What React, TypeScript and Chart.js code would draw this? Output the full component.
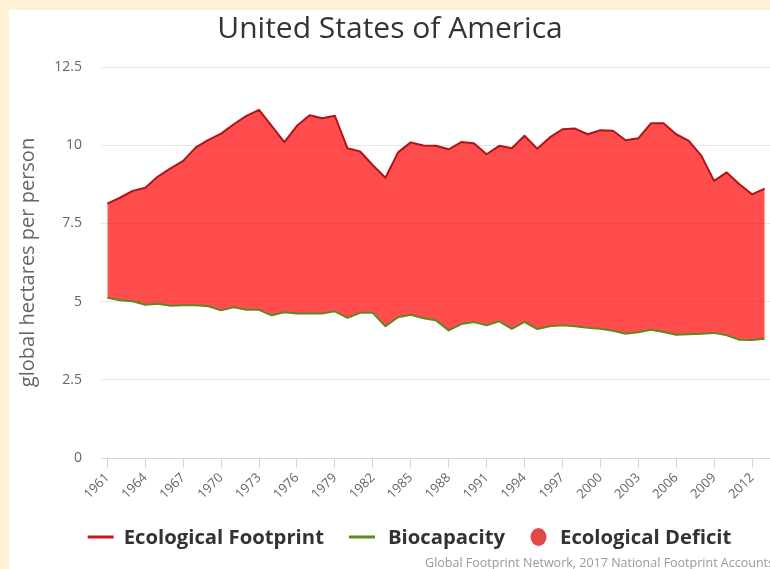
import { useEffect, useRef } from 'react';
import { Chart, registerables } from 'chart.js';

Chart.register(...registerables);

const YEARS = [
  1961, 1962, 1963, 1964, 1965, 1966, 1967, 1968, 1969, 1970,
  1971, 1972, 1973, 1974, 1975, 1976, 1977, 1978, 1979, 1980,
  1981, 1982, 1983, 1984, 1985, 1986, 1987, 1988, 1989, 1990,
  1991, 1992, 1993, 1994, 1995, 1996, 1997, 1998, 1999, 2000,
  2001, 2002, 2003, 2004, 2005, 2006, 2007, 2008, 2009, 2010,
  2011, 2012, 2013,
];

const FOOTPRINT = [
  8.13, 8.32, 8.54, 8.64, 9.0, 9.26, 9.5, 9.93, 10.17, 10.37,
  10.67, 10.94, 11.13, 10.62, 10.1, 10.62, 10.96, 10.86, 10.94, 9.9,
  9.8, 9.36, 8.96, 9.77, 10.09, 9.99, 9.98, 9.87, 10.1, 10.06,
  9.71, 9.98, 9.9, 10.3, 9.89, 10.25, 10.51, 10.53, 10.35, 10.48,
  10.46, 10.16, 10.22, 10.7, 10.7, 10.35, 10.14, 9.66, 8.86, 9.13,
  8.75, 8.43, 8.61,
];

const BIOCAPACITY = [
  5.12, 5.04, 5.01, 4.9, 4.93, 4.87, 4.88, 4.88, 4.85, 4.72,
  4.82, 4.74, 4.74, 4.56, 4.66, 4.62, 4.62, 4.62, 4.69, 4.48,
  4.64, 4.64, 4.21, 4.5, 4.58, 4.47, 4.4, 4.08, 4.28, 4.35,
  4.24, 4.37, 4.13, 4.35, 4.12, 4.21, 4.24, 4.21, 4.16, 4.13,
  4.07, 3.97, 4.02, 4.1, 4.03, 3.94, 3.96, 3.97, 4.0, 3.92,
  3.78, 3.77, 3.81,
];

const X_TICKS = [
  1961, 1964, 1967, 1970, 1973, 1976, 1979, 1982, 1985, 1988,
  1991, 1994, 1997, 2000, 2003, 2006, 2009, 2012,
];
const Y_TICKS = [0, 2.5, 5, 7.5, 10, 12.5];

const TITLE = 'United States of America';
const Y_TITLE = 'global hectares per person';
const LEGEND_LABELS = ['Ecological Footprint', 'Biocapacity', 'Ecological Deficit'];
const CREDIT = 'Global Footprint Network, 2017 National Footprint Accounts';

const FONT = '"Open Sans", "DejaVu Sans", sans-serif';
const RED_LINE = '#b01419';
const GREEN_LINE = '#5b8a1f';
const LEGEND_RED = '#c8161e';
const FILL = 'rgba(255, 0, 0, 0.7)';
const DEFICIT_DOT = '#e2474a';

const W = 775;
const H = 559;

export default function App() {
  const ref = useRef<HTMLCanvasElement>(null);

  useEffect(() => {
    const bs = document.body.style;
    bs.margin = '0';
    bs.background = '#fff2d4';
    bs.overflow = 'hidden';
    document.documentElement.style.overflow = 'hidden';

    const customLegend = {
      id: 'customLegend',
      afterDraw(chart: any) {
        const ctx = chart.ctx as CanvasRenderingContext2D;
        ctx.save();
        ctx.font = `bold 20.3px ${FONT}`;
        ctx.textBaseline = 'middle';
        ctx.textAlign = 'left';
        const cy = 527;
        const symW = [26, 26, 17];
        const gapAfterSym = [10, 13, 13];
        const itemGap = 25;
        const widths = LEGEND_LABELS.map((t, i) => symW[i] + gapAfterSym[i] + ctx.measureText(t).width);
        const total = widths.reduce((a, b) => a + b, 0) + itemGap * (LEGEND_LABELS.length - 1);
        let x = 400.5 - total / 2;
        LEGEND_LABELS.forEach((t, i) => {
          if (i < 2) {
            ctx.strokeStyle = i === 0 ? LEGEND_RED : GREEN_LINE;
            ctx.lineWidth = 3;
            ctx.beginPath();
            ctx.moveTo(x, cy);
            ctx.lineTo(x + symW[i], cy);
            ctx.stroke();
          } else {
            ctx.fillStyle = DEFICIT_DOT;
            ctx.beginPath();
            ctx.ellipse(x + 8.5, cy, 8, 9, 0, 0, Math.PI * 2);
            ctx.fill();
          }
          ctx.fillStyle = '#333333';
          ctx.fillText(t, x + symW[i] + gapAfterSym[i], cy + 1);
          x += widths[i] + itemGap;
        });
        ctx.font = `12.5px ${FONT}`;
        ctx.fillStyle = '#999999';
        ctx.textAlign = 'right';
        ctx.fillText(CREDIT, 765, 553);
        ctx.restore();
      },
    };

    const chart = new Chart(ref.current as HTMLCanvasElement, {
      type: 'line',
      data: {
        datasets: [
          {
            label: LEGEND_LABELS[0],
            data: YEARS.map((x, i) => ({ x, y: FOOTPRINT[i] })),
            borderColor: RED_LINE,
            borderWidth: 2,
            pointRadius: 0,
            fill: false,
            tension: 0,
            borderJoinStyle: 'round',
            order: 1,
          },
          {
            label: LEGEND_LABELS[1],
            data: YEARS.map((x, i) => ({ x, y: BIOCAPACITY[i] })),
            borderColor: GREEN_LINE,
            borderWidth: 2,
            pointRadius: 0,
            fill: false,
            tension: 0,
            borderJoinStyle: 'round',
            order: 2,
          },
          {
            label: LEGEND_LABELS[2],
            data: YEARS.map((x, i) => ({ x, y: FOOTPRINT[i] })),
            borderColor: 'rgba(0,0,0,0)',
            borderWidth: 0,
            backgroundColor: FILL,
            pointRadius: 0,
            fill: 1,
            tension: 0,
            order: 3,
          },
        ],
      } as any,
      options: {
        animation: false,
        responsive: false,
        layout: { padding: { top: 0, right: 13, bottom: 61, left: 0 } },
        plugins: {
          legend: { display: false },
          tooltip: { enabled: false },
          title: {
            display: true,
            text: TITLE,
            color: '#333333',
            font: { family: FONT, size: 30, weight: 'normal' },
            padding: { top: 1, bottom: 20 },
          },
        },
        scales: {
          x: {
            type: 'linear',
            min: 1960.5,
            max: 2013.5,
            afterBuildTicks: (s: any) => {
              s.ticks = X_TICKS.map((v) => ({ value: v }));
            },
            afterFit: (s: any) => {
              s.height = 50;
            },
            ticks: {
              autoSkip: false,
              minRotation: 45,
              maxRotation: 45,
              color: '#666666',
              font: { family: FONT, size: 13 },
              padding: 2,
              callback: (v: any) => String(v),
            },
            grid: {
              drawOnChartArea: false,
              drawTicks: true,
              tickLength: 10,
              color: '#ccd6eb',
              lineWidth: 1,
            },
            border: { display: true, color: '#ccd6eb', width: 1 },
          },
          y: {
            min: 0,
            max: 12.5,
            afterBuildTicks: (s: any) => {
              s.ticks = Y_TICKS.map((v) => ({ value: v }));
            },
            afterFit: (s: any) => {
              s.width = 92;
            },
            ticks: {
              color: '#666666',
              font: { family: FONT, size: 14 },
              padding: 19,
              callback: (v: any) => String(v),
            },
            grid: { color: '#e6e6e6', drawTicks: false, lineWidth: 1 },
            border: { display: false },
            title: {
              display: true,
              text: Y_TITLE,
              color: '#666666',
              font: { family: FONT, size: 20 },
              padding: { top: 7, bottom: 0 },
            },
          },
        },
      } as any,
      plugins: [customLegend],
    });

    return () => chart.destroy();
  }, []);

  return (
    <div
      style={{
        position: 'absolute',
        left: 9,
        top: 10,
        width: W,
        height: H,
        background: '#ffffff',
      }}
    >
      <canvas ref={ref} width={W} height={H} style={{ display: 'block', width: W, height: H }} />
    </div>
  );
}
